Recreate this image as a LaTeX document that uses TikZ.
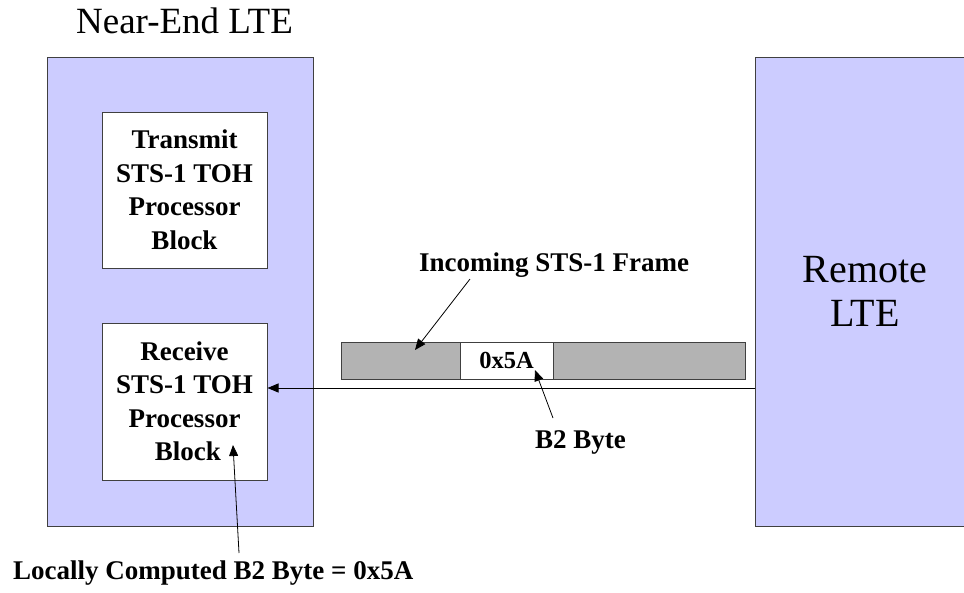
\documentclass[tikz,border=0pt]{standalone}
\usepackage{fontspec}
\setmainfont{Liberation Serif}
\usepackage{tikz}
\usetikzlibrary{arrows.meta, positioning}
\definecolor{ltefill}{HTML}{CCCCFF}
\definecolor{edge}{HTML}{404040}
\definecolor{framegray}{HTML}{B3B3B3}

\begin{document}
\begin{tikzpicture}[x=1pt, y=-1pt,
    ltebox/.style={rectangle, draw=edge, fill=ltefill, line width=1pt,
      minimum height=469pt, inner sep=0pt},
    blockbox/.style={rectangle, draw=edge, fill=white, line width=1pt,
      minimum width=165pt, minimum height=156pt, inner sep=0pt, align=center,
      font=\fontsize{27}{33.5}\selectfont\bfseries},
    cell/.style={rectangle, draw=edge, line width=1pt, minimum height=37pt,
      inner sep=0pt, font=\fontsize{24.5}{28}\selectfont\bfseries},
    tag/.style={inner sep=0pt, font=\fontsize{27}{30}\selectfont\bfseries},
    link/.style={line width=1pt, -{Triangle[length=11pt, width=9pt]}},
    thin link/.style={line width=0.8pt, -{Triangle[length=11pt, width=9pt]}}]
  \useasboundingbox (0,0) rectangle (964,592);
  % the two line terminals
  \node[ltebox, minimum width=266pt] (near) at (180,291.5) {};
  \node[ltebox, minimum width=220pt, align=center,
    font=\fontsize{40}{44}\selectfont] (remote) at (865,291.5) {Remote\\LTE};
  \node[anchor=base, inner sep=0pt, font=\fontsize{37}{40}\selectfont]
    (neartitle) at (184.5,33) {Near-End LTE};
  % processor blocks inside the near end
  \node[blockbox] (tx) at (184.5,190) {Transmit\\STS-1 TOH\\Processor\\Block};
  \node[blockbox, minimum height=157pt] (rx) at (184.5,401.5)
    {Receive\\STS-1 TOH\\Processor\\\ Block};
  % the incoming frame
  \node[cell, fill=framegray, minimum width=404pt] (frame) at (543,360.5) {};
  \node[cell, fill=white, minimum width=93pt] (b2cell) at (506.5,360.5) {0x5A};
  \draw[link] (remote.west |- 0,388) -- (rx.east |- 0,388);
  % callouts
  \node[tag, anchor=base west] (incoming) at (419,271) {Incoming STS-1 Frame};
  \node[tag, anchor=base west] (b2lbl) at (535,448) {B2 Byte};
  \node[tag, anchor=base west] (local) at (13,579) {Locally Computed B2 Byte = 0x5A};
  \coordinate (incomingtail) at (470,279);
  \coordinate (frametip) at (415,350);
  \coordinate (b2tail) at (553,418);
  \coordinate (b2tip) at (535,370);
  \coordinate (localtail) at (239,553);
  \coordinate (localtip) at (233,445);
  \draw[thin link] (incomingtail) -- (frametip);
  \draw[thin link] (b2tail) -- (b2tip);
  \draw[thin link] (localtail) -- (localtip);
\end{tikzpicture}
\end{document}
